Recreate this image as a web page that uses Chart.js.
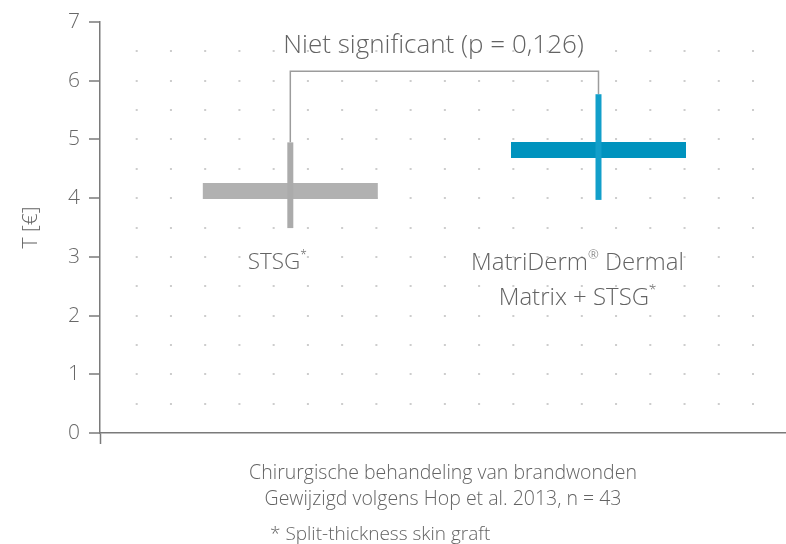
<!DOCTYPE html>
<html><head><meta charset="utf-8">
<script src="https://cdn.jsdelivr.net/npm/chart.js@4/dist/chart.umd.min.js"></script>
<style>html,body{margin:0;padding:0;background:#fff;}#wrap{width:786px;height:544px;position:relative;}</style>
</head><body><div id="wrap"><canvas id="c" width="786" height="544"></canvas></div>
<script>
// ---- data ----
const categories = ['STSG', 'MatriDerm Dermal Matrix + STSG'];
const means = [4.12, 4.82];
const lows = [3.49, 3.97];
const highs = [4.95, 5.77];
const yTickValues = [0, 1, 2, 3, 4, 5, 6, 7];
const bracketLevel = 6.16;
const significanceText = 'Niet significant (p = 0,126)';
const yTitle = 'T [€]';
const xCaption = ['Chirurgische behandeling van brandwonden', 'Gewijzigd volgens Hop et al. 2013, n = 43'];
const footnote = '* Split-thickness skin graft';
// category label rich text: [text, superscript?]
const categoryLabelLines = [
  [[['STSG', 0], ['*', 1]]],
  [[['MatriDerm', 0], ['®', 1], [' Dermal', 0]], [['Matrix + STSG', 0], ['*', 1]]]
];

// ---- style ----
const FONT = "'Open Sans', 'DejaVu Sans', sans-serif";
const meanColors = ['#b1b1b1', '#0093be'];
const errColors = ['#ababab', '#129fca'];
const textColor = '#636363';

const dotSpacing = 34.24, firstDot = 35.2;
const dash = [0, firstDot];
for (let i = 0; i < 20; i++) dash.push(2, dotSpacing - 2);

const datasets = [];
categories.forEach((c, i) => {
  datasets.push({
    type: 'line', order: 1,
    data: [{x: i, y: lows[i]}, {x: i, y: highs[i]}],
    borderColor: errColors[i], borderWidth: 6, pointRadius: 0, borderCapStyle: 'butt'
  });
});
datasets.push({
  type: 'line', order: 2, showLine: false,
  data: means.map((m, i) => ({x: i, y: m})),
  pointStyle: 'line', pointRadius: 87.5, pointBorderWidth: 16,
  pointBorderColor: meanColors, pointBackgroundColor: meanColors
});
datasets.push({
  type: 'line', order: 3,
  data: [{x: 0, y: highs[0]}, {x: 0, y: bracketLevel}, {x: 1, y: bracketLevel}, {x: 1, y: highs[1]}],
  borderColor: '#9c9c9c', borderWidth: 1.5, pointRadius: 0
});

function drawRich(ctx, segs, cx, cy, size) {
  const main = '300 ' + size + 'px ' + FONT;
  const sup = '300 ' + Math.round(size * 0.55) + 'px ' + FONT;
  let total = 0;
  segs.forEach(s => { ctx.font = s[1] ? sup : main; total += ctx.measureText(s[0]).width; });
  let x = cx - total / 2;
  ctx.textAlign = 'left'; ctx.textBaseline = 'middle';
  segs.forEach(s => {
    ctx.font = s[1] ? sup : main;
    ctx.fillText(s[0], x, s[1] ? cy - size * 0.32 : cy);
    x += ctx.measureText(s[0]).width;
  });
}

const textPlugin = {
  id: 'texts',
  afterDraw(chart) {
    const {ctx, scales: {x, y}} = chart;
    ctx.save();
    ctx.fillStyle = textColor;
    // significance label
    ctx.font = '300 26px ' + FONT;
    ctx.textAlign = 'center'; ctx.textBaseline = 'middle';
    ctx.fillText(significanceText, x.getPixelForValue(0.465), y.getPixelForValue(bracketLevel) - 26);
    // category labels
    const labelOffsets = [-13, -21];
    const labelSizes = [22.5, 24];
    categoryLabelLines.forEach((lines, i) => {
      const cx = x.getPixelForValue(i) + labelOffsets[i];
      lines.forEach((segs, j) => drawRich(ctx, segs, cx, 263 + j * 35, labelSizes[i]));
    });
    // footnote
    ctx.font = '300 19px ' + FONT;
    ctx.textAlign = 'left'; ctx.textBaseline = 'middle';
    ctx.fillText(footnote, 270, 535);
    ctx.restore();
  }
};

new Chart(document.getElementById('c'), {
  type: 'line',
  data: {datasets},
  plugins: [textPlugin],
  options: {
    responsive: false, animation: false, devicePixelRatio: 1,
    layout: {autoPadding: false, padding: {top: 22, right: 0, bottom: 0, left: 0}},
    plugins: {legend: {display: false}, tooltip: {enabled: false}},
    scales: {
      x: {
        type: 'linear', min: -0.6175, max: 1.6084,
        afterFit: s => { s.height = 111; },
        afterBuildTicks: s => { s.ticks = [{value: s.min}]; },
        ticks: {display: false},
        grid: {drawOnChartArea: false, drawTicks: true, tickLength: 11, tickColor: '#7a7a7a', tickWidth: 1.5},
        border: {color: '#7a7a7a', width: 1.5},
        title: {display: true, text: xCaption, color: textColor,
          font: {family: FONT, size: 19.5, weight: 300, lineHeight: 1.333}, padding: {top: 0, bottom: 32}}
      },
      y: {
        type: 'linear', min: 0, max: 7,
        afterFit: s => { s.width = 100; },
        afterBuildTicks: s => {
          const t = [];
          for (let v = 0; v <= 14; v++) t.push({value: v / 2});
          s.ticks = t;
        },
        ticks: {
          color: '#686868', padding: 9, font: {family: FONT, size: 21, weight: 300},
          callback: v => yTickValues.includes(v) ? String(v) : ''
        },
        grid: {
          color: c => (c.tick && (c.tick.value === 0 || c.tick.value === 7)) ? 'rgba(0,0,0,0)' : '#cdcdcd',
          lineWidth: 2,
          tickLength: 11, tickWidth: 1.5,
          tickColor: c => (c.tick && yTickValues.includes(c.tick.value)) ? '#7a7a7a' : 'rgba(0,0,0,0)'
        },
        border: {color: '#7a7a7a', width: 1.5, dash: dash, dashOffset: 0},
        title: {display: true, text: yTitle, color: textColor,
          font: {family: FONT, size: 21, weight: 300}, padding: {top: 18, bottom: 0}}
      }
    }
  }
});
</script></body></html>
